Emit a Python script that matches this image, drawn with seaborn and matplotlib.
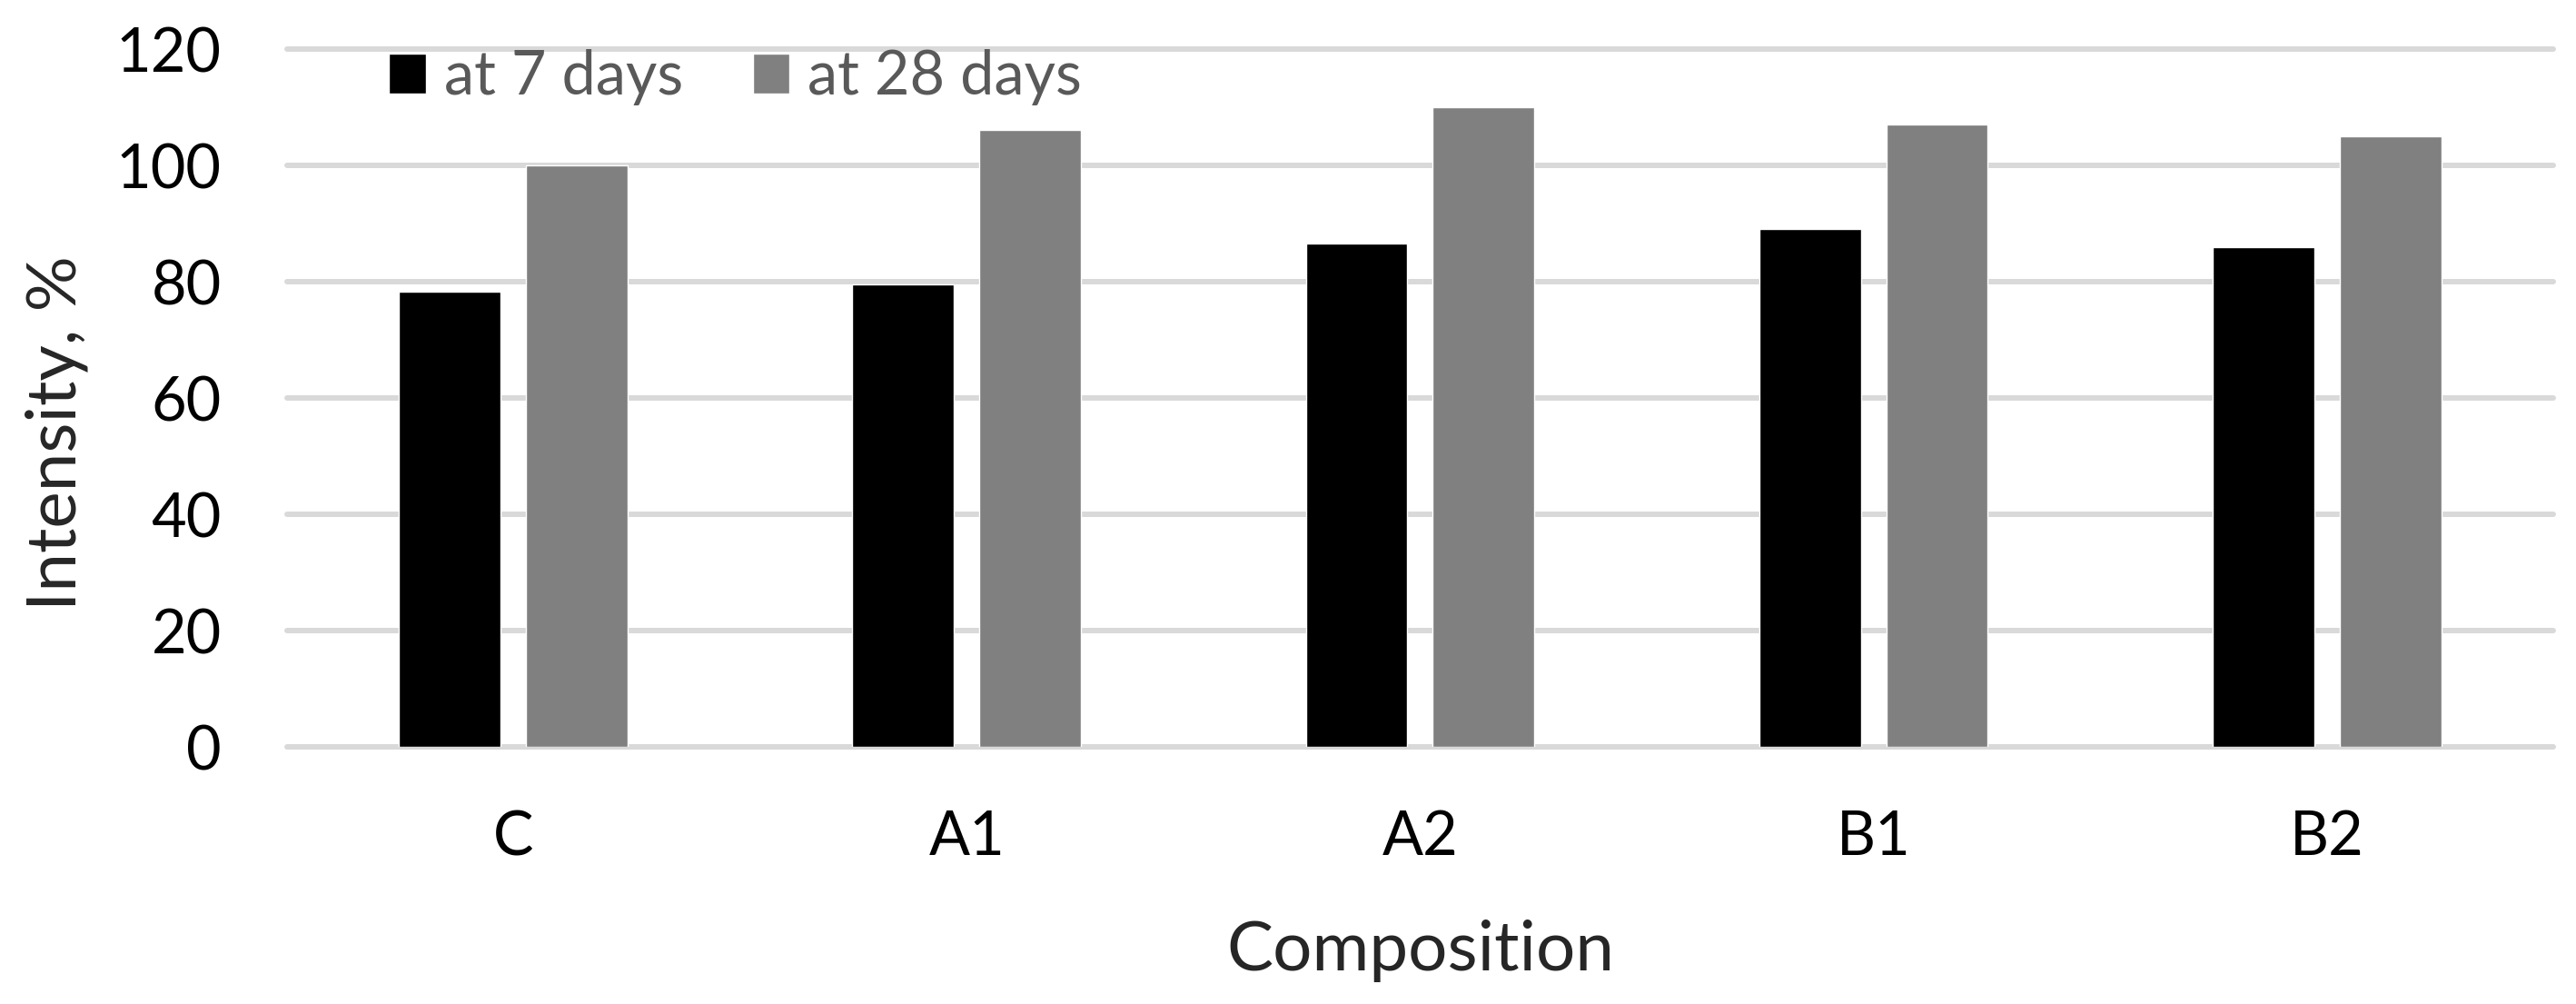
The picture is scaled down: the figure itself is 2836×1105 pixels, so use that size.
import numpy as np
import pandas as pd
import matplotlib
matplotlib.use("Agg")
import matplotlib.pyplot as plt
import seaborn as sns

# values
compositions = ["C", "A1", "A2", "B1", "B2"]
days_7 = [78.3, 79.5, 86.6, 89.1, 85.9]
days_28 = [100.0, 106.1, 110.0, 107.0, 105.0]
series_names = ["at 7 days", "at 28 days"]
y_ticks = [0, 20, 40, 60, 80, 100, 120]

df = pd.DataFrame({
    "Composition": compositions * 2,
    "Intensity": days_7 + days_28,
    "Series": [series_names[0]] * len(compositions) + [series_names[1]] * len(compositions),
})

sns.set_theme(style="white")
plt.rcParams["font.family"] = ["Lato", "DejaVu Sans"]

fig = plt.figure(figsize=(28.36, 11.05), dpi=100)
ax = fig.add_axes([0.1114, 0.2561, 0.8798, 0.6950])

sns.barplot(
    data=df, x="Composition", y="Intensity", hue="Series",
    order=compositions, hue_order=series_names,
    palette={"at 7 days": "#000000", "at 28 days": "#808080"},
    saturation=1, width=0.561, gap=0.2, ax=ax,
)

ax.set_xlim(-0.5, len(compositions) - 0.5)
ax.set_ylim(0, 120)
ax.set_yticks(y_ticks)
ax.yaxis.grid(True, color="#D9D9D9", linewidth=4.3)
ax.set_axisbelow(True)
for line in ax.yaxis.get_gridlines():
    line.set_clip_on(False)

for side in ["top", "right", "left", "bottom"]:
    ax.spines[side].set_visible(False)

ax.tick_params(axis="both", length=0, labelsize=48, colors="black")
ax.tick_params(axis="y", pad=52)
ax.tick_params(axis="x", pad=50)

# axis titles placed where the reference has them
ax.set_xlabel("Composition", fontsize=55)
ax.xaxis.label.set_va("center")
ax.xaxis.set_label_coords(0.5, -0.2917)
ax.set_ylabel("Intensity, %", fontsize=55)
ax.yaxis.label.set_va("center")
ax.yaxis.label.set_rotation_mode("default")
ax.yaxis.set_label_coords(-0.1018, 0.45)

ax.legend_.remove()
handles, labels = ax.get_legend_handles_labels()
leg = fig.legend(
    handles, labels, loc="center left", bbox_to_anchor=(0.151, 0.923),
    ncol=2, frameon=False, fontsize=48, borderpad=0, borderaxespad=0,
    handlelength=0.61, handleheight=0.64, handletextpad=0.3, columnspacing=1.15,
)
for t in leg.get_texts():
    t.set_color("#595959")

fig.savefig("out.png", dpi=100)
